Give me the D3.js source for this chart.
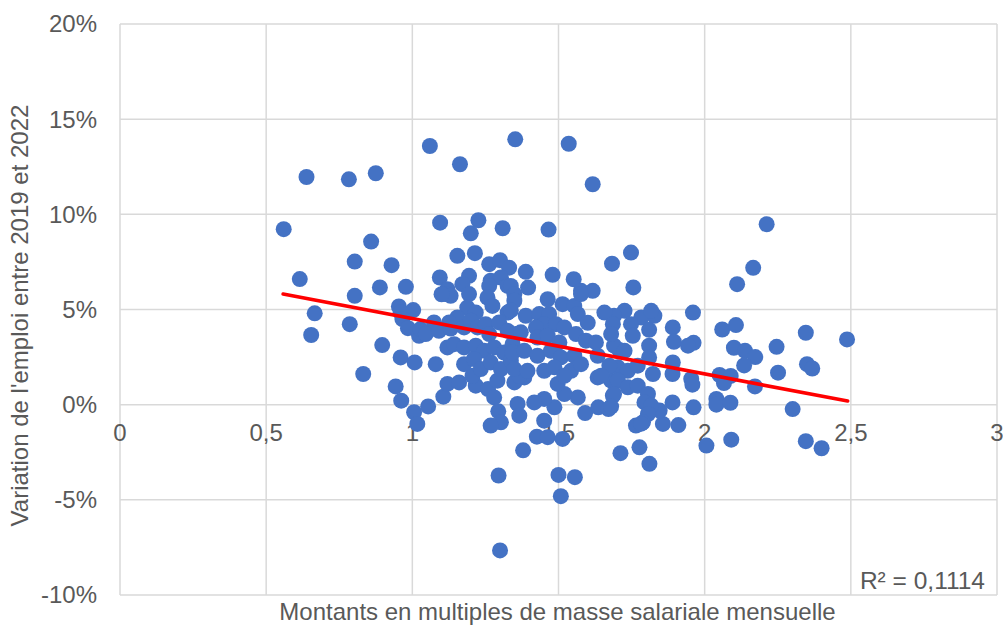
<!DOCTYPE html>
<html><head><meta charset="utf-8">
<script src="https://cdn.jsdelivr.net/npm/d3@7"></script>
<style>
html,body{margin:0;padding:0;background:#fff;}
svg{display:block;font-family:"Liberation Sans",Arial,sans-serif;}
</style></head>
<body>
<svg id="chart" width="1003" height="625"></svg>
<script>
// x: multiples of monthly payroll, y: employment change 2019-2022 (%)
const pointsX = [
0.56,0.615,0.638,0.666,0.654,0.783,0.875,0.859,0.803,0.929,0.803,0.889,0.978,0.954,1.003,0.786,0.96,0.966,0.985,1.023,0.897,0.96,1.008,0.832,0.943,0.962,1.006,1.017,
1.054,1.106,1.12,1.16,1.217,1.206,1.259,1.28,1.294,1.303,1.268,1.295,1.30,1.291,1.349,1.36,1.366,1.379,
1.426,1.463,1.514,1.451,1.5,1.556,1.508,1.712,1.591,1.636,1.671,1.686,1.566,1.52,1.486,1.451,1.417,1.497,1.383,1.634,1.68,1.543,
1.06,1.163,1.352,1.535,1.617,1.095,1.226,1.2,1.309,1.466,1.154,1.214,1.094,1.263,1.30,1.331,1.388,1.48,1.552,1.683,1.194,1.268,1.303,1.326,1.12,1.171,1.337,1.396,1.577,1.617,
1.748,1.756,1.726,1.96,1.828,1.783,1.69,
1.891,1.895,1.962,1.943,1.89,1.891,1.954,1.958,1.89,1.962,1.91,1.857,1.765,1.777,1.811,2.006,1.817,1.748,1.81,1.754,1.81,1.708,1.846,1.69,1.726,1.703,1.737,1.771,1.81,1.823,1.703,1.737,1.771,1.806,1.69,1.68,1.794,1.817,1.806,1.789,1.783,
2.212,2.166,2.111,2.06,2.107,2.346,2.487,2.10,2.138,2.173,2.246,2.135,2.35,2.368,2.251,2.051,2.089,2.066,2.172,2.04,2.04,2.088,2.301,2.091,2.346,2.40,
1.114,1.131,1.194,1.263,1.349,1.257,1.274,1.326,1.188,1.217,1.154,1.126,1.074,1.028,1.046,1.091,1.131,1.177,1.2,1.223,1.251,1.263,1.297,1.326,1.354,1.12,1.143,1.177,1.217,1.246,1.28,1.314,1.343,1.08,1.177,1.211,1.234,1.268,1.303,1.337,1.366,
1.463,1.514,1.554,1.577,1.566,1.657,1.686,1.349,1.337,1.388,1.434,1.468,1.451,1.491,1.52,1.423,1.371,1.428,1.463,1.503,1.56,1.594,1.628,1.68,1.343,1.383,1.428,1.474,1.508,1.554,1.577,1.634,1.674,1.349,1.394,1.451,1.486,1.52,1.646,1.6,1.10
];
const pointsY = [
9.22,6.6,11.96,4.8,3.66,11.84,12.16,8.57,7.52,7.33,5.72,6.16,6.19,5.16,4.97,4.23,4.84,4.5,4.02,3.62,3.13,2.48,2.22,1.61,0.96,0.21,-0.4,-1.01,
-0.09,0.42,1.09,1.17,1.0,1.52,0.82,0.38,-0.35,-0.93,-1.1,-3.72,-7.66,1.26,1.17,0.04,-0.58,-2.4,
-1.68,-1.71,-1.8,-0.84,-3.69,-3.81,-4.81,-2.55,-0.44,-0.14,-0.23,0.47,0.38,0.56,-0.14,0.3,0.12,1.09,1.43,1.43,1.26,1.78,
13.59,12.63,13.94,13.71,11.58,9.56,9.69,9.0,9.27,9.2,7.82,7.96,6.68,7.38,7.59,7.2,6.98,6.82,6.59,7.41,6.77,6.51,6.68,6.24,6.07,6.33,6.24,6.15,5.98,5.98,
7.99,6.16,4.93,4.84,4.67,4.58,4.67,
4.06,3.3,3.25,3.1,1.61,2.22,1.35,1.05,0.12,-0.14,-1.07,-1.01,-1.1,-2.24,-3.11,-2.15,4.93,4.23,3.93,3.62,3.1,2.87,-0.31,3.1,2.83,1.96,1.78,2.05,2.48,1.61,1.26,0.91,1.0,0.56,0.56,-0.1,0.12,-0.05,-0.49,-0.93,-1.0,
9.48,7.19,6.33,3.95,4.18,3.78,3.43,2.99,2.83,2.5,3.04,2.06,2.13,1.9,1.68,1.56,1.51,1.14,0.96,0.3,0.0,0.1,-0.23,-1.84,-1.92,-2.29,
5.81,5.72,5.81,6.24,5.81,5.63,5.19,4.84,5.1,4.84,4.58,4.32,4.32,3.97,3.71,3.88,4.0,4.06,4.41,4.06,4.23,3.71,4.32,3.88,3.71,3.01,3.18,3.01,3.1,2.83,3.01,2.74,3.18,2.13,2.13,2.4,1.87,2.22,1.87,2.31,1.52,
5.54,5.28,5.19,5.81,4.76,4.84,4.23,5.46,4.95,4.67,4.76,4.76,4.23,4.23,4.06,4.06,3.8,3.53,3.62,3.27,3.71,3.36,3.27,3.71,2.74,2.83,2.57,2.83,2.48,2.57,2.13,2.57,2.05,1.87,1.78,1.78,1.96,1.52,1.52,4.3,5.8
];
const trendX = [0.558, 2.489];
const trendY = [5.81, 0.19];
const xTicks = [0, 0.5, 1, 1.5, 2, 2.5, 3];
const xTickLabels = ["0", "0,5", "1", "1,5", "2", "2,5", "3"];
const yTicks = [-10, -5, 0, 5, 10, 15, 20];
const yTickLabels = ["-10%", "-5%", "0%", "5%", "10%", "15%", "20%"];
const xTitle = "Montants en multiples de masse salariale mensuelle";
const yTitle = "Variation de l'emploi entre 2019 et 2022";
const r2Label = "R² = 0,1114";

const svg = d3.select("#chart");
const plotLeft = 120, plotRight = 997, plotTop = 24, plotBottom = 595;
const x = d3.scaleLinear().domain([0, 3]).range([plotLeft, plotRight]);
const y = d3.scaleLinear().domain([-10, 20]).range([plotBottom, plotTop]);
const textColor = "#595959", gridColor = "#d9d9d9", fontSize = 24;

// gridlines
svg.append("g").selectAll("line").data(yTicks).join("line")
  .attr("x1", plotLeft).attr("x2", plotRight)
  .attr("y1", d => y(d)).attr("y2", d => y(d))
  .attr("stroke", gridColor).attr("stroke-width", 1.5);
svg.append("g").selectAll("line").data(xTicks).join("line")
  .attr("y1", plotTop).attr("y2", plotBottom)
  .attr("x1", d => x(d)).attr("x2", d => x(d))
  .attr("stroke", gridColor).attr("stroke-width", 1.5);

// y tick labels
svg.append("g").selectAll("text").data(yTicks).join("text")
  .attr("x", 97).attr("y", d => y(d)).attr("dy", "0.35em")
  .attr("text-anchor", "end").attr("fill", textColor)
  .style("font-size", fontSize + "px")
  .text((d, i) => yTickLabels[i]);

// x tick labels at y=0
svg.append("g").selectAll("text").data(xTicks).join("text")
  .attr("x", d => x(d)).attr("y", y(0) + 28).attr("dy", "0.35em")
  .attr("text-anchor", "middle").attr("fill", textColor)
  .style("font-size", fontSize + "px")
  .text((d, i) => xTickLabels[i]);

// points
const data = pointsX.map((v, i) => ({x: v, y: pointsY[i]}));
svg.append("g").selectAll("circle").data(data).join("circle")
  .attr("cx", d => x(d.x)).attr("cy", d => y(d.y)).attr("r", 8)
  .attr("fill", "#4472C4");

// trend line
svg.append("line")
  .attr("x1", x(trendX[0])).attr("y1", y(trendY[0]))
  .attr("x2", x(trendX[1])).attr("y2", y(trendY[1]))
  .attr("stroke", "#ff0000").attr("stroke-width", 3.6).attr("stroke-linecap", "round");

// R² label
svg.append("text").attr("x", 985).attr("y", 580).attr("dy", "0.35em")
  .attr("text-anchor", "end").attr("fill", textColor)
  .style("font-size", "24.5px").text(r2Label);

// axis titles
svg.append("text").attr("x", (plotLeft + plotRight) / 2 - 1).attr("y", 612).attr("dy", "0.35em")
  .attr("text-anchor", "middle").attr("fill", textColor)
  .style("font-size", fontSize + "px").text(xTitle);
svg.append("text")
  .attr("transform", `translate(20,${(plotTop + plotBottom) / 2 + 6}) rotate(-90)`)
  .attr("dy", "0.35em").attr("text-anchor", "middle").attr("fill", textColor)
  .style("font-size", fontSize + "px").text(yTitle);
</script>
</body></html>
